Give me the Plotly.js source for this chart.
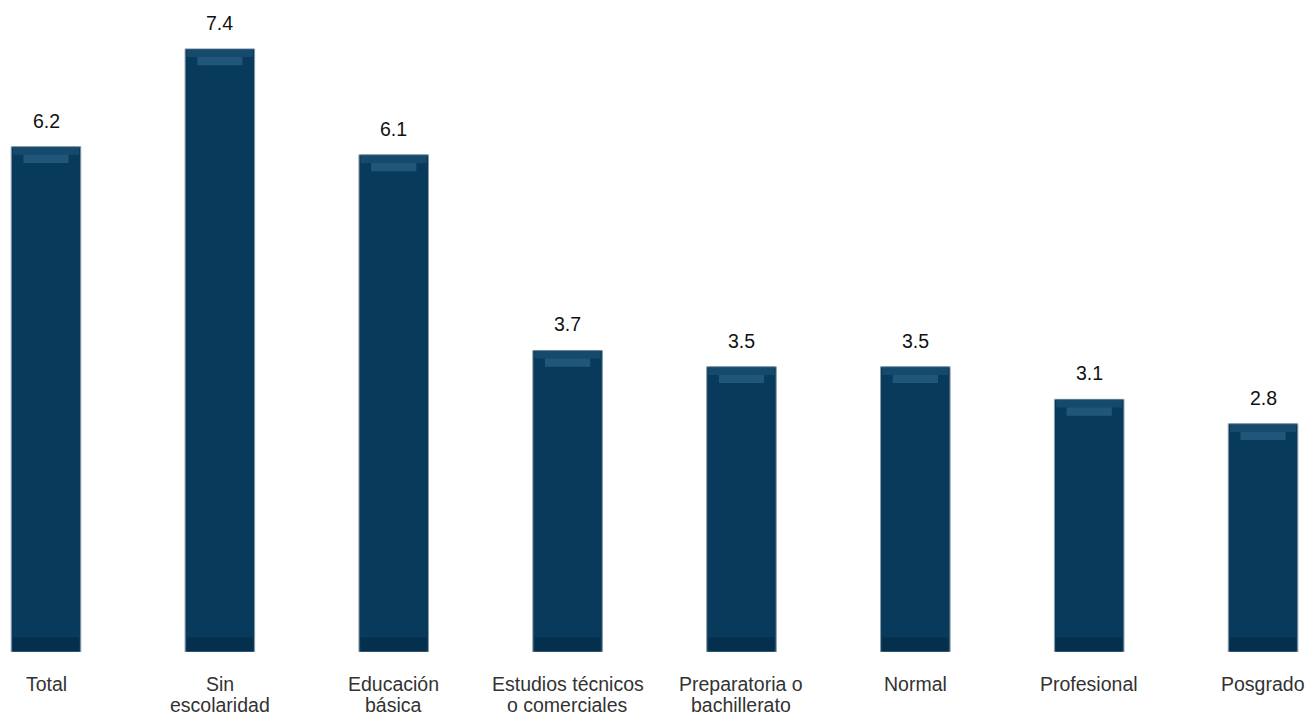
<!DOCTYPE html>
<html>
<head>
<meta charset="utf-8">
<script src="https://cdn.plot.ly/plotly-3.0.1.min.js"></script>
<style>html,body{margin:0;padding:0;background:#fff;}#chart{width:1314px;height:717px;}</style>
</head>
<body>
<div id="chart"></div>
<script>
var categories = ["Total", "Sin<br>escolaridad", "Educación<br>básica", "Estudios técnicos<br>o comerciales", "Preparatoria o<br>bachillerato", "Normal", "Profesional", "Posgrado"];
var values = [6.2, 7.4, 6.1, 3.7, 3.5, 3.5, 3.1, 2.8];
var valueLabels = ["6.2", "7.4", "6.1", "3.7", "3.5", "3.5", "3.1", "2.8"];

var xs = categories.map(function(_, i){ return i; });
var FONT = 'Arial, Liberation Sans, sans-serif';

var main = {
  type: 'bar', x: xs, y: values, width: 0.40,
  marker: {color: '#083a5b', line: {color: '#8c9ca8', width: 1}},
  hoverinfo: 'skip'
};
var topHi = {
  type: 'bar', x: xs, y: values.map(function(){ return 0.1; }),
  base: values.map(function(v){ return v - 0.2; }), width: 0.26,
  marker: {color: 'rgba(70,130,170,0.4)', line: {width: 0}}, hoverinfo: 'skip'
};
var topEdge = {
  type: 'bar', x: xs, y: values.map(function(){ return 0.1; }),
  base: values.map(function(v){ return v - 0.1; }), width: 0.38,
  marker: {color: 'rgba(30,85,120,0.6)', line: {width: 0}}, hoverinfo: 'skip'
};
var bottomShade = {
  type: 'bar', x: xs, y: values.map(function(){ return 0.18; }),
  base: values.map(function(){ return 0; }), width: 0.38,
  marker: {color: 'rgba(0,25,45,0.3)', line: {width: 0}}, hoverinfo: 'skip'
};

var annotations = values.map(function(v, i){
  return {x: i, y: v, xref: 'x', yref: 'y', text: valueLabels[i], showarrow: false,
    yanchor: 'bottom', yshift: 13, font: {family: FONT, size: 19.5, color: '#111'}};
});
// category labels, one annotation per line for tight line spacing
categories.forEach(function(c, i){
  c.split('<br>').forEach(function(line, k){
    annotations.push({x: i, y: 0, xref: 'x', yref: 'paper', text: line, showarrow: false,
      xanchor: 'center', yanchor: 'middle', yshift: -32 - 21 * k,
      font: {family: FONT, size: 19.5, color: '#333'}});
  });
});

var layout = {
  width: 1314, height: 717,
  margin: {l: 0, r: 0, t: 0, b: 65},
  paper_bgcolor: '#fff', plot_bgcolor: '#fff',
  barmode: 'overlay', showlegend: false,
  annotations: annotations,
  xaxis: {
    range: [-0.2646, 7.293], showticklabels: false,
    showgrid: false, zeroline: false, showline: false, ticks: ''
  },
  yaxis: {range: [0, 8.0], visible: false, showgrid: false, zeroline: false}
};
Plotly.newPlot('chart', [main, bottomShade, topEdge, topHi], layout, {displayModeBar: false, staticPlot: true});
</script>
</body>
</html>
